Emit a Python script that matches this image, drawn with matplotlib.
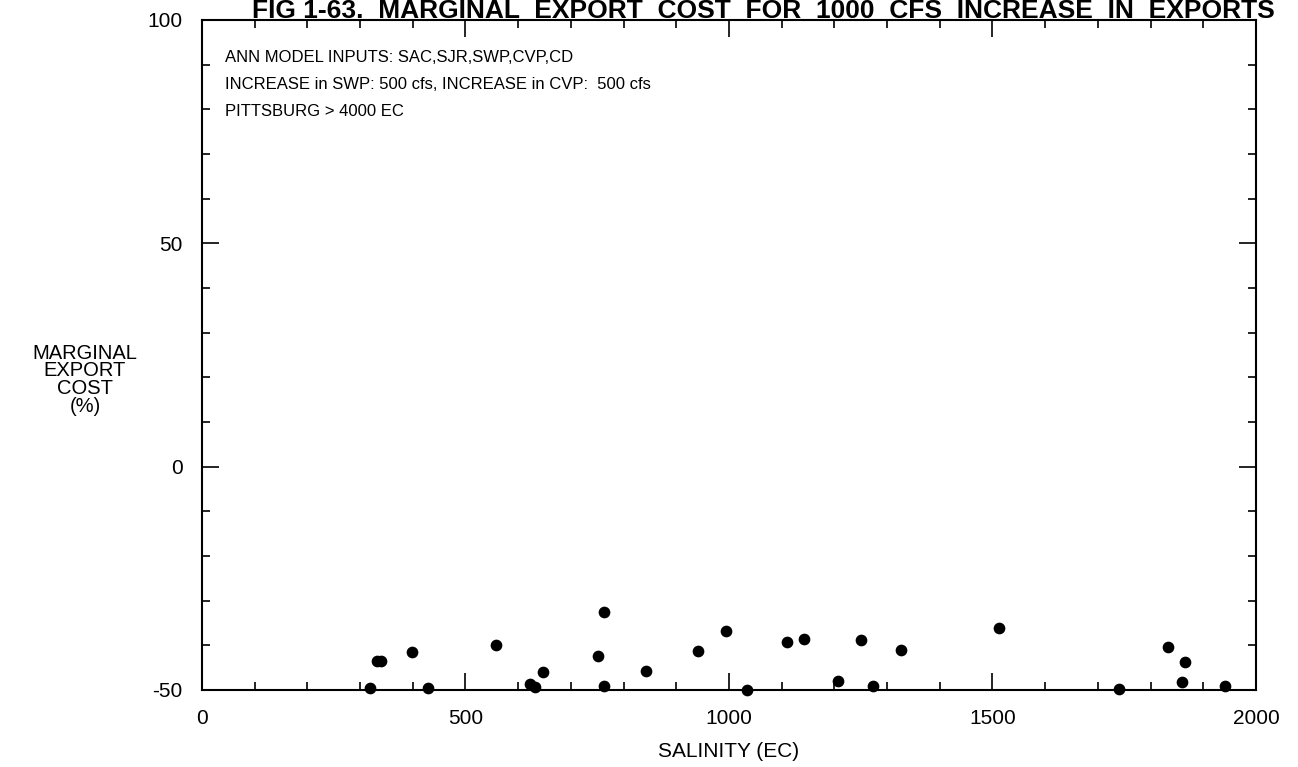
import matplotlib
matplotlib.use("Agg")
import matplotlib.pyplot as plt
from matplotlib.ticker import MultipleLocator, FuncFormatter

plt.rcParams['font.family'] = ['Liberation Sans', 'DejaVu Sans']

# salinity (EC) and marginal export cost (%)
salinity = [319, 333, 339, 398, 429, 557, 622, 632, 648, 751, 763, 763, 842, 942,
            994, 1035, 1111, 1143, 1206, 1250, 1273, 1327, 1512, 1741, 1833, 1859,
            1865, 1942]
cost = [-49.5, -43.5, -43.5, -41.4, -49.6, -40.0, -48.7, -49.3, -46.0, -42.5, -32.6,
        -49.1, -45.8, -41.3, -36.9, -50.0, -39.2, -38.5, -48.0, -38.9, -49.1, -41.0,
        -36.1, -49.7, -40.4, -48.1, -43.8, -49.1]

notes = ["ANN MODEL INPUTS: SAC,SJR,SWP,CVP,CD",
         "INCREASE in SWP: 500 cfs, INCREASE in CVP:  500 cfs",
         "PITTSBURG > 4000 EC"]

fig = plt.figure(figsize=(12.98, 7.67), dpi=100)
ax = fig.add_axes([0.1556, 0.1004, 0.812, 0.8736])

ax.scatter(salinity, cost, s=55, color='black', zorder=3, clip_on=False)

ax.set_xlim(0, 2000)
ax.set_ylim(-50, 100)
ax.xaxis.set_major_locator(MultipleLocator(500))
ax.xaxis.set_minor_locator(MultipleLocator(100))
ax.yaxis.set_major_locator(MultipleLocator(50))
ax.yaxis.set_minor_locator(MultipleLocator(10))
ax.yaxis.set_major_formatter(FuncFormatter(lambda v, p: "%d" % v))
ax.tick_params(which='both', direction='in', top=True, right=True, width=1.2)
ax.tick_params(which='major', length=12, labelsize=15, pad=14)
ax.tick_params(which='minor', length=6)
for s in ax.spines.values():
    s.set_linewidth(1.5)

ax.set_xlabel("SALINITY (EC)", fontsize=15, labelpad=10)
ax.set_ylabel("MARGINAL\nEXPORT\nCOST\n(%)", fontsize=14.5, rotation=0,
              ha='center', va='center', labelpad=0, linespacing=0.92)
ax.yaxis.set_label_coords(-0.111, 0.463)

for i, t in enumerate(notes):
    ax.text(0.022, 0.944 - i * 0.04, t, transform=ax.transAxes, fontsize=12,
            va='center', ha='left')

fig.text(0.588, 0.976, "FIG 1-63.  MARGINAL  EXPORT  COST  FOR  1000  CFS  INCREASE  IN  EXPORTS",
         fontsize=19, fontweight='bold', ha='center', va='baseline')

fig.savefig("out.png", dpi=100)
